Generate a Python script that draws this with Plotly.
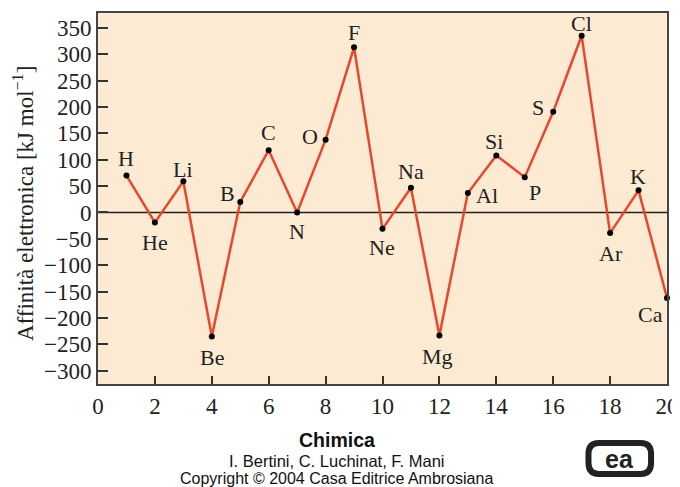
import plotly.graph_objects as go

numbers = list(range(1, 21))
symbols = ["H", "He", "Li", "Be", "B", "C", "N", "O", "F", "Ne",
           "Na", "Mg", "Al", "Si", "P", "S", "Cl", "Ar", "K", "Ca"]
affinity = [70, -19, 59, -235, 20, 118, 0, 138, 313, -31,
            47, -233, 37, 108, 67, 191, 335, -39, 42, -162]
x_ticks = list(range(0, 21, 2))
y_ticks = list(range(-300, 351, 50))

# label offsets in pixels (xshift, yshift)
label_offsets = {
    "H": (0, 17), "He": (0, -20), "Li": (0, 12), "Be": (0, -21), "B": (-13, 8),
    "C": (0, 18), "N": (0, -19), "O": (-16, 3), "F": (0, 15), "Ne": (-1, -19),
    "Na": (0, 16), "Mg": (-2, -21), "Al": (19, -3), "Si": (-2, 14), "P": (10, -15),
    "S": (-15, 4), "Cl": (0, 12), "Ar": (1, -20), "K": (-1, 14), "Ca": (-17, -17),
}

serif = "Liberation Serif, Times New Roman, serif"
sans = "Liberation Sans, Arial, sans-serif"

# the page has an 8 px body margin; figure is sized to fit inside the window
W, H = 672, 479
ML, MR, MT, MB = 90, 13, 5, 103
plot_h = H - MT - MB
plot_w = W - ML - MR

def py(px_below_plot):
    """paper y for a position given in px below the plot area's bottom edge"""
    return -px_below_plot / plot_h

fig = go.Figure()
fig.add_trace(go.Scatter(
    x=numbers, y=affinity, mode="lines+markers",
    line=dict(color="#E8472E", width=2.5),
    marker=dict(color="black", size=6),
    cliponaxis=False, hoverinfo="skip",
))

for n, s, v in zip(numbers, symbols, affinity):
    dx, dy = label_offsets[s]
    fig.add_annotation(x=n, y=v, text=s, showarrow=False,
                       xshift=dx, yshift=dy, xanchor="center", yanchor="middle",
                       font=dict(family=serif, size=22, color="#222"))

# zero line
fig.add_shape(type="line", xref="x", yref="y", x0=0, x1=20, y0=0, y1=0,
              line=dict(color="#222", width=1.5), layer="below")

# y-axis title as rotated text
fig.add_annotation(xref="paper", yref="paper", x=-75 / plot_w, y=0.485,
                   text="Affinità elettronica [kJ mol<sup>−1</sup>]", textangle=-90,
                   showarrow=False, xanchor="center", yanchor="middle",
                   font=dict(family=serif, size=23, color="#222"))

# footer text
foot = [("<b>Chimica</b>", 56, 19.5), ("I. Bertini, C. Luchinat, F. Mani", 77, 16.5),
        ("Copyright © 2004 Casa Editrice Ambrosiana", 95, 16)]
for txt, off, sz in foot:
    fig.add_annotation(xref="paper", yref="paper", x=0.42, y=py(off), text=txt,
                       showarrow=False, xanchor="center", yanchor="middle",
                       font=dict(family=sans, size=sz, color="#111"))

# logo approximation (rounded box with "ea")
x0, x1 = 0.862, 0.972
y1, y0 = py(59), py(90)
r, ry = 0.018, 0.03
logo_path = (f"M {x0+r},{y1} L {x1-r},{y1} Q {x1},{y1} {x1},{y1-ry} "
             f"L {x1},{y0+ry} Q {x1},{y0} {x1-r},{y0} L {x0+r},{y0} "
             f"Q {x0},{y0} {x0},{y0+ry} L {x0},{y1-ry} Q {x0},{y1} {x0+r},{y1} Z")
fig.add_shape(type="path", xref="paper", yref="paper", path=logo_path,
              line=dict(color="#222", width=6), fillcolor="white")
fig.add_annotation(xref="paper", yref="paper", x=(x0+x1)/2, y=(y0+y1)/2, text="<b>ea</b>",
                   showarrow=False, xanchor="center", yanchor="middle",
                   font=dict(family=sans, size=25, color="#222"))

fig.update_layout(
    width=W, height=H,
    margin=dict(l=ML, r=MR, t=MT, b=MB, autoexpand=False),
    paper_bgcolor="white", plot_bgcolor="#FCEBD2",
    showlegend=False,
    font=dict(family=serif, size=22, color="#222"),
)
fig.update_xaxes(range=[0, 20], tickvals=x_ticks, ticks="inside", ticklen=8,
                 tickwidth=1.5, tickcolor="#333", showgrid=False, zeroline=False,
                 showline=True, linecolor="#444", linewidth=2, mirror=True,
                 automargin=False,
                 tickfont=dict(family=serif, size=23, color="#222"))
fig.update_yaxes(range=[-325, 378], tickvals=y_ticks, ticks="inside", ticklen=10,
                 tickwidth=1.5, tickcolor="#333", showgrid=False, zeroline=False,
                 showline=True, linecolor="#444", linewidth=2, mirror=True,
                 automargin=False,
                 tickfont=dict(family=serif, size=23, color="#222"))

fig.write_html("out.html")
